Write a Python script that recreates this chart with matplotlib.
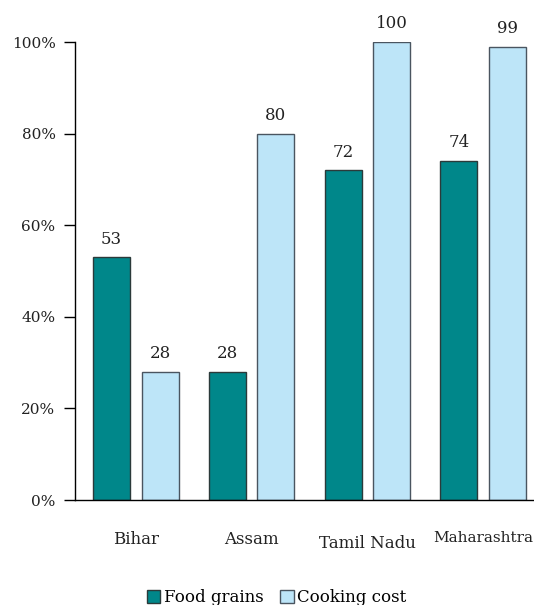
import matplotlib
matplotlib.use("Agg")
import matplotlib.pyplot as plt
import matplotlib.transforms as mtransforms
import numpy as np

states = ["Bihar", "Assam", "Tamil Nadu", "Maharashtra"]
food_grains = [53, 28, 72, 74]
cooking_cost = [28, 80, 100, 99]
y_ticks = [0, 20, 40, 60, 80, 100]

plt.rcParams["font.family"] = ["DejaVu Serif"]

fig = plt.figure(figsize=(5.34, 6.05), dpi=100)
ax = fig.add_axes([75 / 534, 105 / 605, 1 - 75 / 534, 458 / 605])

x = np.arange(len(states))
w = 0.32
teal = "#00878A"
light = "#BDE5F8"
b1 = ax.bar(x - 0.21, food_grains, w, color=teal, edgecolor="#2b3a3a", linewidth=1, label="Food grains")
b2 = ax.bar(x + 0.21, cooking_cost, w, color=light, edgecolor="#4a5560", linewidth=1, label="Cooking cost")

for bars, vals in ((b1, food_grains), (b2, cooking_cost)):
    for r, v in zip(bars, vals):
        ax.annotate(str(v), (r.get_x() + r.get_width() / 2, v), xytext=(0, 7),
                    textcoords="offset points", ha="center", va="bottom",
                    fontsize=12, color="#222222", annotation_clip=False)

ax.set_xlim(-0.527, 3.44)
ax.set_ylim(0, 100)
ax.set_yticks(y_ticks)
ax.set_yticklabels([f"{t}%" for t in y_ticks], fontsize=11, color="#222222")
ax.tick_params(axis="y", length=8, width=1, pad=6)
ax.tick_params(axis="x", length=0, pad=22)
ax.set_xticks(x)
ax.set_xticklabels(states, fontsize=12, color="#222222")
lbl = ax.get_xticklabels()[2]
lbl.set_transform(lbl.get_transform() + mtransforms.ScaledTranslation(0, -3 / 72, fig.dpi_scale_trans))
ax.get_xticklabels()[3].set_fontsize(11)

for s in ("top", "right"):
    ax.spines[s].set_visible(False)
ax.spines["left"].set_linewidth(1)
ax.spines["bottom"].set_linewidth(1)

fig.legend(handles=[b1, b2], loc="lower center", bbox_to_anchor=(0.518, -0.027), ncol=2,
           frameon=False, fontsize=12, handlelength=0.8, handleheight=0.8,
           handletextpad=0.2, columnspacing=1.0)

fig.savefig("out.png", dpi=100)
plt.close(fig)
